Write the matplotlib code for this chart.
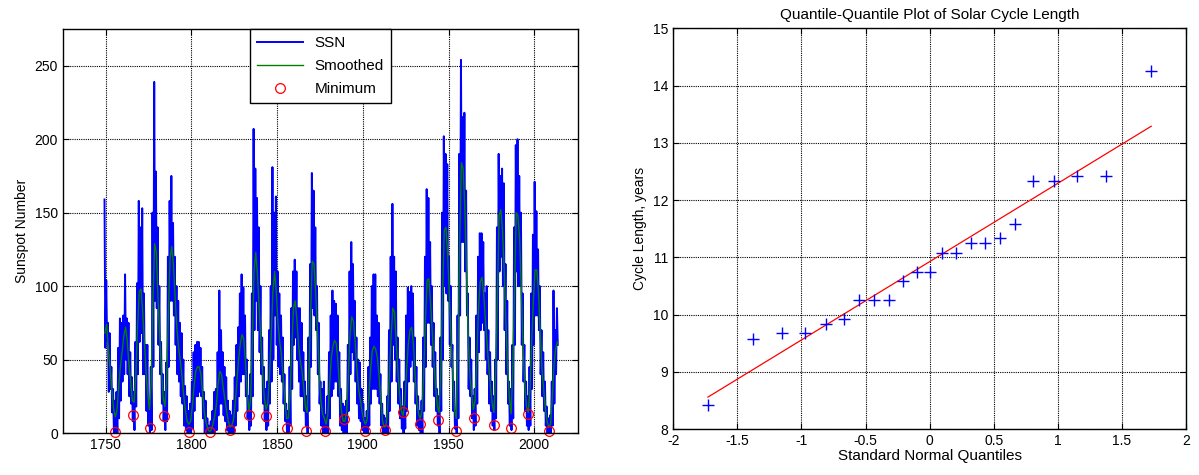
import numpy as np
import matplotlib
matplotlib.use('Agg')
import matplotlib.pyplot as plt

plt.rcParams['font.family'] = ['Liberation Sans', 'DejaVu Sans']
plt.rcParams['font.size'] = 10

# yearly data 1749 - 2013
years = np.arange(1749, 2014)

# highest / lowest monthly sunspot number within each year
ssn_hi = [159, 104, 75, 68, 45, 30, 22, 28, 58, 78, 75,
          80, 108, 78, 75, 55, 38, 28, 62, 102, 158,
          140, 153, 95, 60, 60, 22, 45, 150, 239, 178,
          140, 100, 62, 40, 28, 48, 120, 158, 175, 143,
          120, 100, 90, 75, 68, 50, 32, 25, 15, 20,
          35, 55, 60, 62, 62, 58, 45, 28, 22, 10,
          5, 8, 15, 28, 30, 55, 97, 70, 55, 45,
          38, 22, 15, 12, 22, 38, 60, 72, 95, 108,
          99, 80, 50, 25, 40, 95, 207, 180, 160, 140,
          100, 65, 45, 30, 35, 70, 100, 181, 150, 161,
          110, 95, 80, 65, 40, 20, 15, 45, 85, 110,
          118, 110, 85, 85, 75, 55, 35, 25, 65, 115,
          177, 165, 140, 100, 75, 35, 30, 35, 12, 25,
          55, 80, 97, 90, 88, 80, 55, 30, 20, 18,
          22, 60, 110, 130, 115, 90, 65, 50, 48, 30,
          20, 10, 15, 45, 65, 100, 108, 108, 80, 75,
          40, 20, 12, 10, 25, 70, 120, 156, 120, 110,
          65, 50, 30, 18, 35, 80, 99, 96, 100, 95,
          65, 45, 25, 15, 22, 65, 120, 166, 160, 130,
          100, 75, 55, 30, 25, 65, 150, 202, 190, 183,
          120, 100, 60, 35, 15, 80, 190, 254, 215, 218,
          165, 95, 65, 50, 25, 30, 80, 120, 136, 136,
          130, 95, 100, 70, 55, 35, 25, 50, 140, 190,
          175, 180, 170, 115, 90, 35, 30, 60, 140, 196,
          200, 175, 150, 95, 60, 35, 25, 45, 95, 135,
          171, 151, 125, 100, 70, 55, 35, 18, 10, 12,
          35, 97, 70, 85]

ssn_lo = [58, 63, 28, 30, 14, 0, 0, 0, 10, 22, 35,
          40, 50, 40, 25, 20, 8, 2, 18, 40, 62,
          68, 40, 40, 15, 5, 0, 2, 45, 90, 85,
          60, 40, 20, 8, 2, 8, 45, 90, 90, 80,
          60, 40, 35, 25, 20, 5, 2, 0, 0, 0,
          3, 15, 25, 25, 28, 25, 10, 0, 0, 0,
          0, 0, 0, 0, 2, 12, 20, 20, 12, 8,
          2, 0, 0, 0, 0, 5, 15, 25, 35, 40,
          40, 25, 10, 2, 5, 25, 70, 90, 70, 55,
          40, 20, 8, 2, 5, 20, 35, 50, 80, 60,
          45, 40, 35, 20, 8, 0, 0, 5, 30, 60,
          65, 50, 35, 25, 25, 15, 5, 0, 15, 45,
          85, 80, 70, 40, 20, 5, 0, 0, 0, 0,
          10, 25, 30, 35, 35, 25, 5, 2, 0, 0,
          0, 15, 40, 55, 50, 35, 20, 10, 8, 2,
          0, 0, 0, 5, 20, 30, 30, 30, 25, 20,
          5, 0, 0, 0, 0, 15, 35, 60, 50, 35,
          20, 10, 3, 0, 3, 15, 35, 45, 50, 35,
          20, 5, 2, 0, 0, 15, 45, 75, 75, 60,
          45, 25, 15, 5, 0, 15, 50, 100, 95, 90,
          60, 45, 15, 3, 0, 10, 80, 130, 130, 110,
          80, 30, 25, 10, 2, 5, 20, 55, 70, 75,
          70, 50, 40, 20, 15, 5, 2, 10, 50, 110,
          120, 100, 70, 40, 20, 5, 2, 10, 60, 110,
          100, 100, 60, 35, 15, 5, 2, 5, 30, 60,
          80, 80, 70, 40, 25, 15, 5, 0, 0, 0,
          5, 20, 40, 60]

smoothed = [68, 74, 57, 44, 30, 17, 11, 15, 31, 45, 55,
            66, 72, 63, 47, 35, 22, 21, 39, 71, 96,
            98, 83, 62, 42, 26, 16, 35, 90, 129, 123,
            91, 65, 42, 24, 18, 35, 80, 119, 127, 114,
            91, 71, 58, 49, 38, 25, 15, 8, 6, 8,
            18, 32, 42, 45, 45, 40, 27, 14, 7, 3,
            1, 2, 6, 11, 19, 33, 42, 40, 31, 23,
            15, 8, 4, 5, 9, 20, 35, 50, 61, 67,
            64, 48, 28, 15, 23, 62, 110, 123, 108, 85,
            63, 41, 24, 16, 20, 39, 65, 96, 110, 96,
            74, 62, 53, 38, 22, 10, 10, 26, 57, 85,
            90, 77, 60, 49, 42, 31, 18, 14, 39, 81,
            117, 115, 95, 70, 43, 22, 13, 10, 6, 12,
            31, 50, 59, 63, 61, 48, 29, 15, 8, 8,
            14, 38, 67, 79, 76, 62, 44, 30, 23, 15,
            9, 6, 9, 24, 43, 56, 59, 57, 51, 39,
            22, 8, 4, 5, 17, 40, 66, 85, 82, 61,
            41, 26, 15, 12, 21, 42, 60, 70, 72, 61,
            39, 22, 13, 10, 15, 40, 77, 104, 105, 89,
            68, 48, 31, 18, 14, 42, 92, 138, 140, 122,
            93, 64, 38, 16, 10, 55, 128, 184, 180, 154,
            109, 64, 39, 26, 16, 22, 51, 85, 103, 106,
            95, 77, 61, 45, 31, 20, 14, 41, 92, 148,
            152, 138, 110, 74, 44, 24, 13, 43, 97, 150,
            148, 132, 97, 58, 33, 18, 14, 29, 61, 90,
            111, 111, 96, 68, 44, 30, 17, 8, 4, 6,
            23, 46, 57, 62]

# solar minima (time, SSN)
min_years = [1755.2, 1766.1, 1775.9, 1784.1, 1798.6, 1810.9, 1822.3, 1833.7,
             1843.5, 1855.9, 1866.7, 1878.1, 1889.2, 1901.4, 1912.9, 1923.6,
             1933.5, 1943.9, 1954.2, 1964.6, 1976.3, 1986.2, 1996.3, 2008.9]
min_vals = [0.9, 12.5, 3.7, 11.7, 0.7, 0.7, 2.0, 12.4,
            11.7, 3.7, 1.5, 1.4, 9.3, 1.4, 2.0, 14.0,
            6.4, 8.6, 1.4, 10.0, 5.2, 3.6, 12.7, 1.4]

# Q-Q plot data
qq_x = [-1.73, -1.38, -1.15, -0.97, -0.81, -0.67, -0.55, -0.43, -0.32, -0.21,
        -0.10, 0.00, 0.10, 0.21, 0.32, 0.43, 0.55, 0.67, 0.81, 0.97, 1.15,
        1.38, 1.73]
cycle_len = [8.42, 9.58, 9.67, 9.67, 9.83, 9.92, 10.25, 10.25, 10.25, 10.58,
             10.75, 10.75, 11.08, 11.08, 11.25, 11.25, 11.33, 11.58, 12.33,
             12.33, 12.42, 12.42, 14.25]


def matlab_style(ax):
    ax.grid(True, color='black', linestyle=(0, (1, 1)), linewidth=0.8)
    ax.set_axisbelow(True)
    ax.tick_params(direction='in', top=True, right=True, length=4, width=0.8)
    for s in ax.spines.values():
        s.set_linewidth(1.0)


fig = plt.figure(figsize=(11.99, 4.75), dpi=100)

# 1) sunspot number with smoothed curve and minima
ax1 = fig.add_axes([0.0525, 0.0884, 0.4295, 0.8505])
# high and low of each year alternate to give the monthly spread
t_ssn = np.ravel(np.column_stack([years + 0.25, years + 0.75]))
v_ssn = np.ravel(np.column_stack([ssn_hi, ssn_lo]))
ax1.plot(t_ssn, v_ssn, color='blue', linewidth=1.4, label='SSN')
ax1.plot(years + 0.5, smoothed, color=(0, 0.5, 0), linewidth=1.0, label='Smoothed')
ax1.plot(min_years, min_vals, 'o', mfc='none', mec='red', ms=7, mew=0.9,
         clip_on=False, label='Minimum')
ax1.set_xlim(1725, 2025.5)
ax1.set_ylim(0, 275)
ax1.set_xticks([1750, 1800, 1850, 1900, 1950, 2000])
ax1.set_yticks([0, 50, 100, 150, 200, 250])
ax1.set_ylabel('Sunspot Number')
matlab_style(ax1)
leg = ax1.legend(loc='upper center', bbox_to_anchor=(0.5, 1.0), borderaxespad=0,
                 fancybox=False, edgecolor='black', framealpha=1, fontsize=11,
                 handlelength=3.0, labelspacing=0.6, borderpad=0.45)
leg.get_frame().set_linewidth(1.0)

# 2) Q-Q plot of cycle length
ax2 = fig.add_axes([0.5616, 0.0968, 0.4274, 0.8436])
k, b = np.polyfit(qq_x, cycle_len, 1)
xl = np.array([min(qq_x), max(qq_x)])
ax2.plot(xl, k * xl + b, color='red', linewidth=0.9)
ax2.plot(qq_x, cycle_len, '+', color='blue', ms=9, mew=1.0)
ax2.set_xlim(-2, 2)
ax2.set_ylim(8, 15)
ax2.set_xticks([-2, -1.5, -1, -0.5, 0, 0.5, 1, 1.5, 2])
ax2.set_xticklabels(['-2', '-1.5', '-1', '-0.5', '0', '0.5', '1', '1.5', '2'])
ax2.set_title('Quantile-Quantile Plot of Solar Cycle Length', fontsize=11, pad=7)
ax2.set_xlabel('Standard Normal Quantiles', fontsize=11, labelpad=1)
ax2.set_ylabel('Cycle Length, years')
matlab_style(ax2)

plt.savefig('out.png', dpi=100)
